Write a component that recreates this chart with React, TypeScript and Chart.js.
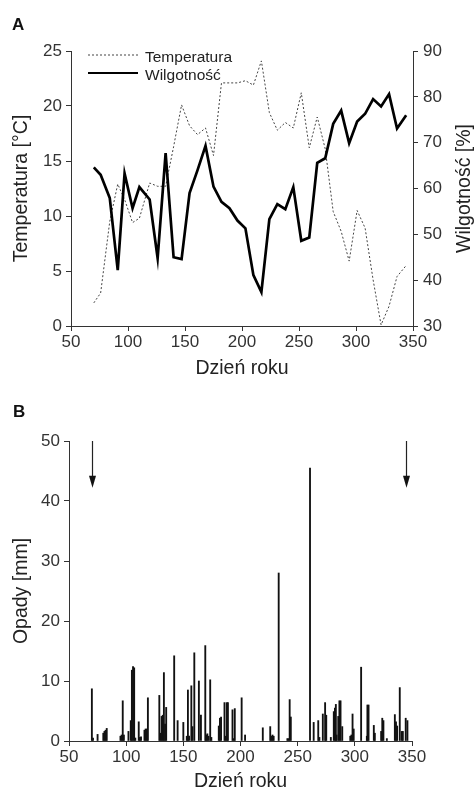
import React, { useEffect, useRef } from 'react';
import { Chart, registerables } from 'chart.js';

Chart.register(...registerables);

const FONT = '"Liberation Sans", Arial, Helvetica, sans-serif';
Chart.defaults.font.family = FONT;

// ---- Panel A: weekly temperature and humidity ----
const sampleDays = [70, 76, 84, 91, 97, 104, 110, 119, 126, 133, 140, 147, 154, 161, 168, 175, 182, 189, 196, 203,
  210, 217, 224, 231, 238, 245, 252, 259, 266, 273, 280, 287, 294, 301, 308, 315, 322, 329, 336, 344];
const temperature = [2.1, 3.0, 9.5, 12.9, 11.5, 9.4, 9.8, 13.0, 12.7, 12.7, 16.3, 20.1, 18.2, 17.4, 18.0, 15.5, 22.1, 22.1, 22.1, 22.3,
  21.9, 24.1, 19.4, 17.8, 18.5, 18.0, 21.2, 16.2, 19.0, 16.1, 10.4, 8.6, 5.9, 10.5, 8.9, 4.2, 0.1, 1.8, 4.5, 5.5];
const humidity = [64.6, 63.0, 57.9, 42.2, 63.3, 55.7, 60.3, 57.6, 44.8, 67.7, 45.0, 44.6, 59.0, 64.0, 69.3, 60.4, 57.1, 55.7, 53.0, 51.3,
  41.1, 37.4, 53.3, 56.6, 55.5, 60.3, 48.6, 49.3, 65.6, 66.6, 74.1, 77.0, 69.9, 74.6, 76.3, 79.5, 77.9, 80.6, 73.1, 76.0];

// ---- Panel B: daily precipitation ----
const rainDays = [70, 71, 75, 80, 81, 82, 83, 95, 96, 97, 98, 102, 104, 105, 106, 107, 108, 111, 112, 113,
  116, 117, 118, 119, 129, 130, 131, 132, 133, 134, 135, 142, 145, 150, 153, 154, 155, 157, 158, 159.6,
  163.6, 165.4, 169.2, 170, 171, 172, 173.5, 174.5, 181, 182, 183, 186, 187, 188, 189, 193, 194, 195, 201, 204,
  219.5, 226, 227, 228, 229, 233.4, 241, 242, 243, 244, 260.8, 264, 268, 269, 272, 274, 275, 279, 281.6, 282.6,
  283.4, 284, 285.5, 286.5, 287.5, 289, 296, 297, 298, 299, 305.5, 310.5, 311, 312, 316.6, 317.5, 323, 324, 325, 328,
  335, 336, 337, 339.3, 341, 342, 344.5, 346];
const rainMm = [8.7, 0.5, 1.1, 1.3, 1.6, 1.8, 2.1, 0.8, 1.0, 6.7, 1.0, 1.6, 3.4, 11.8, 12.4, 12.2, 0.5, 3.2, 0.6, 0.7,
  1.8, 2.0, 2.0, 7.2, 7.6, 1.3, 4.1, 4.3, 11.4, 2.8, 5.6, 14.2, 3.4, 3.1, 0.8, 8.5, 0.8, 9.2, 2.4, 14.7,
  10.0, 4.3, 15.9, 1.0, 1.2, 0.8, 10.2, 0.6, 2.5, 3.8, 4.0, 6.4, 0.8, 6.4, 6.4, 5.2, 0.4, 5.4, 7.2, 1.0,
  2.2, 2.4, 0.8, 1.0, 0.8, 28.0, 0.4, 0.4, 6.9, 4.0, 45.5, 3.1, 3.4, 0.6, 4.5, 6.4, 4.3, 0.6, 4.9, 5.5,
  6.1, 1.0, 4.1, 6.7, 6.7, 2.4, 0.8, 1.0, 4.5, 2.0, 12.3, 0.8, 6.0, 6.0, 2.6, 1.3, 1.6, 3.8, 3.4, 0.4,
  4.4, 3.2, 2.5, 8.9, 1.6, 1.6, 3.8, 3.4];

const arrowDays = [70, 345];
const arrowFrom = 50;
const arrowTo = 42.2;

const AXIS = '#333';
const TICK_FONT = { family: FONT, size: 17 };
const TITLE_FONT = { family: FONT, size: 19.5 };

const axisGrid = { display: true, drawOnChartArea: false, drawTicks: true, tickLength: 5, color: AXIS, tickColor: AXIS, offset: false };
const axisBorder = { display: true, color: AXIS, width: 1 };

const topDecor = {
  id: 'topDecor',
  afterDraw(chart: any) {
    const ctx = chart.ctx;
    const area = chart.chartArea;
    ctx.save();
    // panel letter
    ctx.fillStyle = '#111';
    ctx.font = `bold 17px ${FONT}`;
    ctx.textAlign = 'left';
    ctx.textBaseline = 'alphabetic';
    ctx.fillText('A', 12, 30);
    // legend
    const rows = [
      { ds: chart.data.datasets[1], y: 55, ty: 61.5 },
      { ds: chart.data.datasets[0], y: 73, ty: 79.5 },
    ];
    ctx.font = `15.5px ${FONT}`;
    for (const r of rows) {
      ctx.beginPath();
      ctx.setLineDash(r.ds.borderDash || []);
      ctx.lineWidth = r.ds.borderWidth === 1 ? 1 : 2;
      ctx.strokeStyle = r.ds.borderColor;
      ctx.moveTo(88, r.y);
      ctx.lineTo(138, r.y);
      ctx.stroke();
      ctx.setLineDash([]);
      ctx.fillStyle = '#222';
      ctx.fillText(r.ds.label, 145, r.ty);
    }
    // right axis title (reads bottom-to-top)
    ctx.translate(465, (area.top + area.bottom) / 2);
    ctx.rotate(-Math.PI / 2);
    ctx.font = `19.5px ${FONT}`;
    ctx.textAlign = 'center';
    ctx.textBaseline = 'middle';
    ctx.fillStyle = '#222';
    ctx.fillText('Wilgotność [%]', 0, 0);
    ctx.restore();
  },
};

const bottomDecor = {
  id: 'bottomDecor',
  afterDraw(chart: any) {
    const ctx = chart.ctx;
    const xs = chart.scales.x;
    const ys = chart.scales.y;
    ctx.save();
    ctx.fillStyle = '#111';
    ctx.font = `bold 17px ${FONT}`;
    ctx.textAlign = 'left';
    ctx.textBaseline = 'alphabetic';
    ctx.fillText('B', 13, 36.5);
    ctx.strokeStyle = '#222';
    ctx.fillStyle = '#111';
    ctx.lineWidth = 1.2;
    for (const d of arrowDays) {
      const x = Math.round(xs.getPixelForValue(d)) + 0.5;
      const y0 = ys.getPixelForValue(arrowFrom);
      const y1 = ys.getPixelForValue(arrowTo);
      ctx.beginPath();
      ctx.moveTo(x, y0);
      ctx.lineTo(x, y1 - 10);
      ctx.stroke();
      ctx.beginPath();
      ctx.moveTo(x - 3.5, y1 - 12);
      ctx.lineTo(x + 3.5, y1 - 12);
      ctx.lineTo(x, y1);
      ctx.closePath();
      ctx.fill();
    }
    ctx.restore();
  },
};

export default function App() {
  const topRef = useRef<HTMLCanvasElement>(null);
  const botRef = useRef<HTMLCanvasElement>(null);

  useEffect(() => {
    const top = new Chart(topRef.current as HTMLCanvasElement, {
      type: 'line',
      data: {
        datasets: [
          {
            label: 'Wilgotność',
            data: sampleDays.map((d, i) => ({ x: d, y: humidity[i] })),
            yAxisID: 'y1',
            borderColor: '#000',
            borderWidth: 2.7,
            pointRadius: 0,
            tension: 0,
          },
          {
            label: 'Temperatura',
            data: sampleDays.map((d, i) => ({ x: d, y: temperature[i] })),
            yAxisID: 'y',
            borderColor: '#444',
            borderWidth: 1,
            borderDash: [2, 2],
            pointRadius: 0,
            tension: 0,
          },
        ],
      } as any,
      options: {
        responsive: false,
        animation: false,
        events: [],
        layout: { padding: { top: 51, left: 0, right: 0, bottom: 0 } },
        plugins: { legend: { display: false }, tooltip: { enabled: false } },
        scales: {
          x: {
            type: 'linear',
            min: 50,
            max: 350,
            ticks: { stepSize: 50, font: TICK_FONT, color: AXIS, padding: 1 },
            grid: axisGrid,
            border: axisBorder,
            title: { display: true, text: 'Dzień roku', font: TITLE_FONT, color: '#222', padding: 0 },
            afterFit: (s: any) => { s.height = 54; },
          },
          y: {
            position: 'left',
            min: 0,
            max: 25,
            ticks: { stepSize: 5, font: TICK_FONT, color: AXIS, padding: 4 },
            grid: axisGrid,
            border: axisBorder,
            title: { display: true, text: 'Temperatura [°C]', font: TITLE_FONT, color: '#222', padding: { top: 9.5, bottom: 0 } },
            afterFit: (s: any) => { s.width = 71; },
          },
          y1: {
            position: 'right',
            min: 30,
            max: 90,
            ticks: { stepSize: 10, font: TICK_FONT, color: AXIS, padding: 5 },
            grid: axisGrid,
            border: axisBorder,
            afterFit: (s: any) => { s.width = 62; },
          },
        },
      } as any,
      plugins: [topDecor],
    });

    const bottom = new Chart(botRef.current as HTMLCanvasElement, {
      type: 'bar',
      data: {
        datasets: [
          {
            label: 'Opady',
            data: rainDays.map((d, i) => ({ x: d, y: rainMm[i] })),
            backgroundColor: '#111',
            borderWidth: 0,
            barThickness: 1.2,
          },
        ],
      } as any,
      options: {
        responsive: false,
        animation: false,
        events: [],
        layout: { padding: { top: 61, left: 0, right: 63, bottom: 0 } },
        plugins: { legend: { display: false }, tooltip: { enabled: false } },
        scales: {
          x: {
            type: 'linear',
            min: 50,
            max: 350,
            offset: false,
            ticks: { stepSize: 50, font: TICK_FONT, color: AXIS, padding: 1 },
            grid: axisGrid,
            border: axisBorder,
            title: { display: true, text: 'Dzień roku', font: TITLE_FONT, color: '#222', padding: 0 },
            afterFit: (s: any) => { s.height = 52; },
          },
          y: {
            min: 0,
            max: 50,
            ticks: { stepSize: 10, font: TICK_FONT, color: AXIS, padding: 4 },
            grid: axisGrid,
            border: axisBorder,
            title: { display: true, text: 'Opady [mm]', font: TITLE_FONT, color: '#222', padding: { top: 9.5, bottom: 0 } },
            afterFit: (s: any) => { s.width = 69; },
          },
        },
      } as any,
      plugins: [bottomDecor],
    });

    return () => {
      top.destroy();
      bottom.destroy();
    };
  }, []);

  return (
    <div style={{ position: 'absolute', left: 0, top: 0, width: 475, height: 793, background: '#fff' }}>
      <canvas ref={topRef} width={475} height={380} style={{ position: 'absolute', left: 0, top: 0 }} />
      <canvas ref={botRef} width={475} height={413} style={{ position: 'absolute', left: 0, top: 380 }} />
    </div>
  );
}
